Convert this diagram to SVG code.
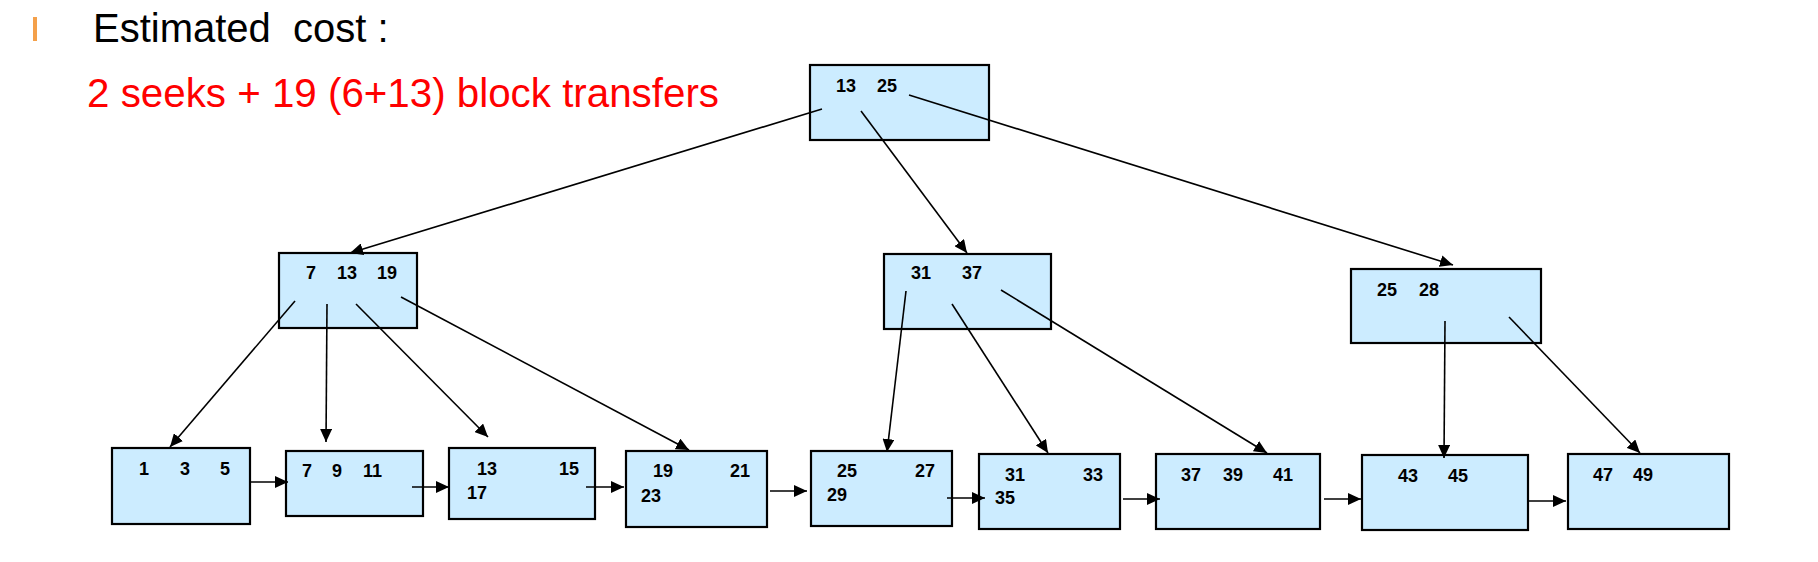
<svg xmlns="http://www.w3.org/2000/svg" width="1818" height="562" viewBox="0 0 1818 562">
<defs>
<style>
.box{fill:#CCECFF;stroke:#000;stroke-width:2.2}
.num{font-family:"Liberation Sans",Arial,sans-serif;font-size:18px;font-weight:bold;fill:#000}
.edge{stroke:#000;stroke-width:1.6;fill:none;marker-end:url(#ah)}
</style>
<marker id="ah" markerUnits="userSpaceOnUse" markerWidth="14" markerHeight="12" refX="13" refY="6" orient="auto">
<path d="M0,0 L13,6 L0,12 z" fill="#000"/>
</marker>
</defs>
<rect width="1818" height="562" fill="#fff"/>
<g id="header">
<rect x="33" y="17" width="4" height="24" fill="#F4A04A"/>
<text x="93" y="42" font-family="Liberation Sans,Arial,sans-serif" font-size="40" fill="#000" style="white-space:pre">Estimated  cost :</text>
<text x="87" y="107" font-family="Liberation Sans,Arial,sans-serif" font-size="40" fill="#FF0000" textLength="632" lengthAdjust="spacingAndGlyphs">2 seeks + 19 (6+13) block transfers</text>
</g>
<g id="root"><rect class="box" x="810" y="65" width="179" height="75"/><text class="num" y="92"><tspan x="836">13</tspan><tspan x="877">25</tspan></text></g>
<g id="nodeA"><rect class="box" x="279" y="253" width="138" height="75"/><text class="num" y="279"><tspan x="306">7</tspan><tspan x="337">13</tspan><tspan x="377">19</tspan></text></g>
<g id="nodeB"><rect class="box" x="884" y="254" width="167" height="75"/><text class="num" y="279"><tspan x="911">31</tspan><tspan x="962">37</tspan></text></g>
<g id="nodeC"><rect class="box" x="1351" y="269" width="190" height="74"/><text class="num" y="296"><tspan x="1377">25</tspan><tspan x="1419">28</tspan></text></g>
<g id="leaf1"><rect class="box" x="112" y="448" width="138" height="76"/><text class="num" y="475"><tspan x="139">1</tspan><tspan x="180">3</tspan><tspan x="220">5</tspan></text></g>
<g id="leaf2"><rect class="box" x="286" y="451" width="137" height="65"/><text class="num" y="477"><tspan x="302">7</tspan><tspan x="332">9</tspan><tspan x="363">11</tspan></text></g>
<g id="leaf3"><rect class="box" x="449" y="448" width="146" height="71"/><text class="num" y="475"><tspan x="477">13</tspan><tspan x="559">15</tspan></text><text class="num" x="467" y="499">17</text></g>
<g id="leaf4"><rect class="box" x="626" y="451" width="141" height="76"/><text class="num" y="477"><tspan x="653">19</tspan><tspan x="730">21</tspan></text><text class="num" x="641" y="502">23</text></g>
<g id="leaf5"><rect class="box" x="811" y="451" width="141" height="75"/><text class="num" y="477"><tspan x="837">25</tspan><tspan x="915">27</tspan></text><text class="num" x="827" y="501">29</text></g>
<g id="leaf6"><rect class="box" x="979" y="454" width="141" height="75"/><text class="num" y="481"><tspan x="1005">31</tspan><tspan x="1083">33</tspan></text><text class="num" x="995" y="504">35</text></g>
<g id="leaf7"><rect class="box" x="1156" y="454" width="164" height="75"/><text class="num" y="481"><tspan x="1181">37</tspan><tspan x="1223">39</tspan><tspan x="1273">41</tspan></text></g>
<g id="leaf8"><rect class="box" x="1362" y="455" width="166" height="75"/><text class="num" y="482"><tspan x="1398">43</tspan><tspan x="1448">45</tspan></text></g>
<g id="leaf9"><rect class="box" x="1568" y="454" width="161" height="75"/><text class="num" y="481"><tspan x="1593">47</tspan><tspan x="1633">49</tspan></text></g>
<g id="connectors">
<line class="edge" x1="822" y1="109" x2="350" y2="253"/>
<line class="edge" x1="861" y1="111" x2="967" y2="253"/>
<line class="edge" x1="909" y1="95" x2="1453" y2="265"/>
<line class="edge" x1="295" y1="301" x2="170" y2="447"/>
<line class="edge" x1="327" y1="304" x2="326" y2="442"/>
<line class="edge" x1="356" y1="304" x2="488" y2="437"/>
<line class="edge" x1="401" y1="297" x2="689" y2="450"/>
<line class="edge" x1="906" y1="291" x2="887" y2="452"/>
<line class="edge" x1="952" y1="304" x2="1048" y2="453"/>
<line class="edge" x1="1001" y1="290" x2="1267" y2="453"/>
<line class="edge" x1="1445" y1="321" x2="1444" y2="458"/>
<line class="edge" x1="1509" y1="317" x2="1640" y2="453"/>
<line class="edge" x1="251" y1="482" x2="288" y2="482"/>
<line class="edge" x1="412" y1="487" x2="449" y2="487"/>
<line class="edge" x1="586" y1="487" x2="624" y2="487"/>
<line class="edge" x1="770" y1="491" x2="807" y2="491"/>
<line class="edge" x1="947" y1="498" x2="985" y2="498"/>
<line class="edge" x1="1123" y1="499" x2="1160" y2="499"/>
<line class="edge" x1="1324" y1="499" x2="1361" y2="499"/>
<line class="edge" x1="1529" y1="501" x2="1566" y2="501"/>
</g>
</svg>
